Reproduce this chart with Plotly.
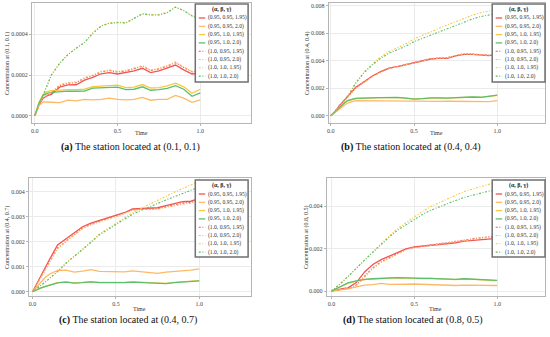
import plotly.graph_objects as go

# ---------------- data ----------------
T = [0.0, 0.025, 0.05, 0.075, 0.1, 0.15, 0.2, 0.25, 0.3, 0.35, 0.4, 0.45, 0.5,
     0.55, 0.6, 0.65, 0.7, 0.75, 0.8, 0.85, 0.9, 0.95, 1.0]

SERIES_NAMES = ["(0.95, 0.95, 1.95)", "(0.95, 0.95, 2.0)", "(0.95, 1.0, 1.95)",
                "(0.95, 1.0, 2.0)", "(1.0, 0.95, 1.95)", "(1.0, 0.95, 2.0)",
                "(1.0, 1.0, 1.95)", "(1.0, 1.0, 2.0)"]

# Panel (a): station (0.1, 0.1)
A_S1 = [0, 0.55e-4, 0.86e-4, 0.98e-4, 1.05e-4, 1.40e-4, 1.51e-4, 1.52e-4, 1.75e-4, 1.88e-4, 2.06e-4, 2.12e-4,
        2.05e-4, 2.12e-4, 2.20e-4, 2.33e-4, 2.12e-4, 2.20e-4, 2.33e-4, 2.49e-4, 2.25e-4, 2.05e-4, 2.10e-4]
A_S2 = [0, 0.50e-4, 0.68e-4, 0.66e-4, 0.66e-4, 0.64e-4, 0.76e-4, 0.73e-4, 0.80e-4, 0.78e-4, 0.80e-4, 0.86e-4,
        0.80e-4, 0.78e-4, 0.80e-4, 0.90e-4, 0.76e-4, 0.80e-4, 0.80e-4, 1.00e-4, 0.86e-4, 0.66e-4, 0.78e-4]
A_S3 = [0, 0.65e-4, 1.05e-4, 1.18e-4, 1.23e-4, 1.27e-4, 1.28e-4, 1.28e-4, 1.30e-4, 1.43e-4, 1.45e-4, 1.46e-4,
        1.50e-4, 1.38e-4, 1.40e-4, 1.53e-4, 1.36e-4, 1.38e-4, 1.46e-4, 1.60e-4, 1.42e-4, 1.10e-4, 1.30e-4]
A_S4 = [0, 0.62e-4, 1.00e-4, 1.10e-4, 1.15e-4, 1.19e-4, 1.21e-4, 1.20e-4, 1.21e-4, 1.35e-4, 1.37e-4, 1.38e-4,
        1.40e-4, 1.28e-4, 1.30e-4, 1.42e-4, 1.25e-4, 1.28e-4, 1.34e-4, 1.48e-4, 1.30e-4, 0.95e-4, 1.12e-4]
A_S5 = [0, 0.52e-4, 0.88e-4, 1.02e-4, 1.12e-4, 1.48e-4, 1.60e-4, 1.62e-4, 1.84e-4, 1.97e-4, 2.15e-4, 2.22e-4,
        2.15e-4, 2.20e-4, 2.30e-4, 2.43e-4, 2.22e-4, 2.30e-4, 2.44e-4, 2.60e-4, 2.37e-4, 2.15e-4, 2.20e-4]
A_S6 = [0, 0.52e-4, 0.90e-4, 1.05e-4, 1.16e-4, 1.52e-4, 1.63e-4, 1.66e-4, 1.87e-4, 2.00e-4, 2.18e-4, 2.25e-4,
        2.18e-4, 2.23e-4, 2.33e-4, 2.46e-4, 2.25e-4, 2.33e-4, 2.47e-4, 2.64e-4, 2.40e-4, 2.18e-4, 2.23e-4]
A_S7 = [0, 0.62e-4, 1.02e-4, 1.57e-4, 2.02e-4, 2.59e-4, 3.02e-4, 3.33e-4, 3.61e-4, 4.07e-4, 4.42e-4, 4.56e-4,
        4.59e-4, 4.58e-4, 4.82e-4, 5.02e-4, 4.97e-4, 4.97e-4, 5.08e-4, 5.35e-4, 5.18e-4, 4.92e-4, 4.77e-4]
A_S8 = [0, 0.60e-4, 1.00e-4, 1.55e-4, 2.00e-4, 2.57e-4, 3.00e-4, 3.31e-4, 3.59e-4, 4.05e-4, 4.40e-4, 4.54e-4,
        4.57e-4, 4.56e-4, 4.80e-4, 5.00e-4, 4.95e-4, 4.95e-4, 5.06e-4, 5.33e-4, 5.16e-4, 4.90e-4, 4.75e-4]

# Panel (b): station (0.4, 0.4)
B_S1 = [0, 0.30e-3, 0.70e-3, 1.05e-3, 1.38e-3, 2.06e-3, 2.47e-3, 2.89e-3, 3.20e-3, 3.45e-3, 3.56e-3, 3.70e-3,
        3.85e-3, 4.00e-3, 4.12e-3, 4.17e-3, 4.17e-3, 4.34e-3, 4.46e-3, 4.46e-3, 4.41e-3, 4.36e-3, 4.46e-3]
B_S2 = [0, 0.22e-3, 0.48e-3, 0.72e-3, 0.92e-3, 1.09e-3, 1.08e-3, 1.07e-3, 1.06e-3, 1.08e-3, 1.06e-3, 1.04e-3,
        1.03e-3, 1.06e-3, 1.05e-3, 1.04e-3, 1.05e-3, 1.04e-3, 1.02e-3, 1.00e-3, 0.98e-3, 1.02e-3, 1.09e-3]
B_S3 = [0, 0.25e-3, 0.55e-3, 0.84e-3, 1.08e-3, 1.25e-3, 1.29e-3, 1.30e-3, 1.31e-3, 1.34e-3, 1.32e-3, 1.28e-3,
        1.22e-3, 1.24e-3, 1.29e-3, 1.30e-3, 1.28e-3, 1.31e-3, 1.35e-3, 1.35e-3, 1.33e-3, 1.39e-3, 1.48e-3]
B_S4 = [0, 0.25e-3, 0.55e-3, 0.85e-3, 1.10e-3, 1.26e-3, 1.30e-3, 1.30e-3, 1.32e-3, 1.35e-3, 1.33e-3, 1.28e-3,
        1.21e-3, 1.24e-3, 1.30e-3, 1.30e-3, 1.28e-3, 1.32e-3, 1.36e-3, 1.36e-3, 1.34e-3, 1.40e-3, 1.50e-3]
B_S5 = [0, 0.28e-3, 0.68e-3, 1.02e-3, 1.35e-3, 2.02e-3, 2.44e-3, 2.86e-3, 3.18e-3, 3.44e-3, 3.58e-3, 3.72e-3,
        3.86e-3, 4.02e-3, 4.14e-3, 4.20e-3, 4.22e-3, 4.38e-3, 4.50e-3, 4.48e-3, 4.44e-3, 4.40e-3, 4.42e-3]
B_S6 = [0, 0.27e-3, 0.66e-3, 1.00e-3, 1.33e-3, 2.00e-3, 2.42e-3, 2.84e-3, 3.16e-3, 3.42e-3, 3.56e-3, 3.70e-3,
        3.84e-3, 4.00e-3, 4.12e-3, 4.18e-3, 4.20e-3, 4.36e-3, 4.48e-3, 4.46e-3, 4.42e-3, 4.38e-3, 4.40e-3]
B_S7 = [0, 0.30e-3, 0.72e-3, 1.06e-3, 1.40e-3, 2.40e-3, 3.18e-3, 3.76e-3, 4.27e-3, 4.66e-3, 4.92e-3, 5.22e-3,
        5.58e-3, 5.85e-3, 6.10e-3, 6.35e-3, 6.60e-3, 6.85e-3, 7.10e-3, 7.30e-3, 7.48e-3, 7.62e-3, 7.73e-3]
B_S8 = [0, 0.30e-3, 0.72e-3, 1.05e-3, 1.38e-3, 2.36e-3, 3.13e-3, 3.69e-3, 4.17e-3, 4.54e-3, 4.78e-3, 5.05e-3,
        5.38e-3, 5.62e-3, 5.87e-3, 6.10e-3, 6.35e-3, 6.58e-3, 6.83e-3, 7.02e-3, 7.20e-3, 7.33e-3, 7.44e-3]

# Panel (c): station (0.4, 0.7)
C_S1 = [0, 0.33e-3, 0.67e-3, 0.97e-3, 1.27e-3, 1.87e-3, 2.11e-3, 2.34e-3, 2.60e-3, 2.74e-3, 2.84e-3, 2.93e-3,
        3.04e-3, 3.16e-3, 3.31e-3, 3.33e-3, 3.33e-3, 3.36e-3, 3.44e-3, 3.53e-3, 3.60e-3, 3.62e-3, 3.73e-3]
C_S2 = [0, 0.20e-3, 0.40e-3, 0.57e-3, 0.70e-3, 0.85e-3, 0.86e-3, 0.78e-3, 0.82e-3, 0.88e-3, 0.81e-3, 0.80e-3,
        0.77e-3, 0.79e-3, 0.83e-3, 0.80e-3, 0.78e-3, 0.73e-3, 0.78e-3, 0.80e-3, 0.83e-3, 0.86e-3, 0.91e-3]
C_S3 = [0, 0.08e-3, 0.15e-3, 0.21e-3, 0.26e-3, 0.36e-3, 0.39e-3, 0.35e-3, 0.37e-3, 0.40e-3, 0.37e-3, 0.36e-3,
        0.36e-3, 0.37e-3, 0.39e-3, 0.37e-3, 0.34e-3, 0.32e-3, 0.33e-3, 0.37e-3, 0.40e-3, 0.42e-3, 0.44e-3]
C_S4 = [0, 0.08e-3, 0.15e-3, 0.20e-3, 0.25e-3, 0.35e-3, 0.38e-3, 0.34e-3, 0.36e-3, 0.39e-3, 0.36e-3, 0.35e-3,
        0.35e-3, 0.36e-3, 0.38e-3, 0.36e-3, 0.33e-3, 0.31e-3, 0.32e-3, 0.36e-3, 0.39e-3, 0.41e-3, 0.43e-3]
C_S5 = [0, 0.28e-3, 0.58e-3, 0.88e-3, 1.17e-3, 1.75e-3, 2.03e-3, 2.28e-3, 2.55e-3, 2.70e-3, 2.82e-3, 2.92e-3,
        3.02e-3, 3.14e-3, 3.28e-3, 3.31e-3, 3.30e-3, 3.32e-3, 3.40e-3, 3.48e-3, 3.54e-3, 3.58e-3, 3.66e-3]
C_S6 = [0, 0.27e-3, 0.56e-3, 0.86e-3, 1.15e-3, 1.72e-3, 2.00e-3, 2.25e-3, 2.52e-3, 2.68e-3, 2.80e-3, 2.90e-3,
        3.00e-3, 3.12e-3, 3.26e-3, 3.30e-3, 3.29e-3, 3.30e-3, 3.37e-3, 3.44e-3, 3.50e-3, 3.54e-3, 3.62e-3]
C_S7 = [0, 0.12e-3, 0.26e-3, 0.39e-3, 0.53e-3, 0.82e-3, 1.15e-3, 1.42e-3, 1.70e-3, 2.00e-3, 2.30e-3, 2.52e-3,
        2.74e-3, 2.95e-3, 3.16e-3, 3.33e-3, 3.50e-3, 3.65e-3, 3.82e-3, 3.98e-3, 4.13e-3, 4.28e-3, 4.42e-3]
C_S8 = [0, 0.12e-3, 0.25e-3, 0.38e-3, 0.52e-3, 0.80e-3, 1.13e-3, 1.40e-3, 1.67e-3, 1.97e-3, 2.27e-3, 2.48e-3,
        2.70e-3, 2.90e-3, 3.10e-3, 3.25e-3, 3.40e-3, 3.53e-3, 3.67e-3, 3.80e-3, 3.94e-3, 4.06e-3, 4.18e-3]

# Panel (d): station (0.8, 0.5)
D_S1 = [0, 0.05e-3, 0.10e-3, 0.12e-3, 0.15e-3, 0.40e-3, 0.90e-3, 1.25e-3, 1.48e-3, 1.65e-3, 1.80e-3, 1.99e-3,
        2.08e-3, 2.12e-3, 2.16e-3, 2.20e-3, 2.24e-3, 2.28e-3, 2.36e-3, 2.40e-3, 2.44e-3, 2.47e-3, 2.49e-3]
D_S2 = [0, 0.03e-3, 0.05e-3, 0.07e-3, 0.10e-3, 0.20e-3, 0.28e-3, 0.30e-3, 0.36e-3, 0.31e-3, 0.30e-3, 0.32e-3,
        0.33e-3, 0.31e-3, 0.30e-3, 0.28e-3, 0.25e-3, 0.26e-3, 0.28e-3, 0.28e-3, 0.28e-3, 0.27e-3, 0.26e-3]
D_S3 = [0, 0.10e-3, 0.20e-3, 0.29e-3, 0.37e-3, 0.47e-3, 0.54e-3, 0.57e-3, 0.59e-3, 0.60e-3, 0.62e-3, 0.61e-3,
        0.59e-3, 0.59e-3, 0.59e-3, 0.57e-3, 0.55e-3, 0.54e-3, 0.57e-3, 0.55e-3, 0.54e-3, 0.52e-3, 0.49e-3]
D_S4 = [0, 0.10e-3, 0.20e-3, 0.30e-3, 0.38e-3, 0.48e-3, 0.55e-3, 0.58e-3, 0.60e-3, 0.61e-3, 0.63e-3, 0.62e-3,
        0.60e-3, 0.60e-3, 0.60e-3, 0.58e-3, 0.56e-3, 0.55e-3, 0.58e-3, 0.56e-3, 0.55e-3, 0.53e-3, 0.50e-3]
D_S5 = [0, 0.04e-3, 0.08e-3, 0.10e-3, 0.12e-3, 0.28e-3, 0.70e-3, 1.10e-3, 1.38e-3, 1.58e-3, 1.78e-3, 1.97e-3,
        2.06e-3, 2.12e-3, 2.18e-3, 2.24e-3, 2.28e-3, 2.34e-3, 2.40e-3, 2.46e-3, 2.52e-3, 2.56e-3, 2.60e-3]
D_S6 = [0, 0.04e-3, 0.07e-3, 0.09e-3, 0.11e-3, 0.25e-3, 0.66e-3, 1.06e-3, 1.35e-3, 1.56e-3, 1.76e-3, 1.95e-3,
        2.05e-3, 2.10e-3, 2.16e-3, 2.22e-3, 2.26e-3, 2.32e-3, 2.38e-3, 2.43e-3, 2.49e-3, 2.53e-3, 2.56e-3]
D_S7 = [0, 0.15e-3, 0.32e-3, 0.50e-3, 0.68e-3, 1.07e-3, 1.47e-3, 1.86e-3, 2.25e-3, 2.61e-3, 2.96e-3, 3.24e-3,
        3.51e-3, 3.76e-3, 3.99e-3, 4.18e-3, 4.35e-3, 4.53e-3, 4.70e-3, 4.82e-3, 4.93e-3, 5.04e-3, 5.14e-3]
D_S8 = [0, 0.15e-3, 0.32e-3, 0.50e-3, 0.68e-3, 1.07e-3, 1.46e-3, 1.84e-3, 2.22e-3, 2.56e-3, 2.88e-3, 3.14e-3,
        3.40e-3, 3.62e-3, 3.82e-3, 3.98e-3, 4.12e-3, 4.28e-3, 4.42e-3, 4.53e-3, 4.62e-3, 4.72e-3, 4.78e-3]

X_TICKS = [0.0, 0.5, 1.0]
X_TICKTEXT = ["0.0", "0.5", "1.0"]
A_YTICKS = [0.0, 0.0002, 0.0004]
A_YTEXT = ["0.0000", "0.0002", "0.0004"]
B_YTICKS = [0.0, 0.002, 0.004, 0.006, 0.008]
B_YTEXT = ["0.000", "0.002", "0.004", "0.006", "0.008"]
C_YTICKS = [0.0, 0.001, 0.002, 0.003, 0.004]
C_YTEXT = ["0.000", "0.001", "0.002", "0.003", "0.004"]
D_YTICKS = [0.0, 0.002, 0.004]
D_YTEXT = ["0.000", "0.002", "0.004"]

# ---------------- styling ----------------
W, H = 550, 337
FONT = "Liberation Serif, Times New Roman, DejaVu Serif, serif"
COLORS = ["#F05454", "#FFB966", "#F7C93E", "#5CBF6E", "#F05454", "#FFB966", "#F7C93E", "#5CBF6E"]
DASH_ALT = "2px,1.6px,1px,1.6px"
DASHES = ["solid", "solid", "solid", "solid", DASH_ALT, DASH_ALT, DASH_ALT, DASH_ALT]
WIDTHS = [1.3, 1.3, 1.3, 1.3, 1.1, 1.1, 1.1, 1.1]
FRAME = "#B5B5B5"
GRID = "#EBEBEB"


def px(x):
    return x / W


def py(y):
    return 1 - y / H


panels = [
    dict(n="", series=[A_S1, A_S2, A_S3, A_S4, A_S5, A_S6, A_S7, A_S8],
         box=(30, 3, 250, 123), xr=[-0.018, 1.307], yr=[-0.36e-4, 5.54e-4],
         yt=A_YTICKS, ytt=A_YTEXT, ytitle="Concentration at (0.1, 0.1)", ytx=5,
         cap="<b>(a)</b> The station located at (0.1, 0.1)", cap_xy=(129, 147),
         time_y=133, leg=(194, 4, 247, 82)),
    dict(n="2", series=[B_S1, B_S2, B_S3, B_S4, B_S5, B_S6, B_S7, B_S8],
         box=(328, 3, 545, 123), xr=[-0.012, 1.287], yr=[-0.53e-3, 8.19e-3],
         yt=B_YTICKS, ytt=B_YTEXT, ytitle="Concentration at (0.4, 0.4)", ytx=306,
         cap="<b>(b)</b> The station located at (0.4, 0.4)", cap_xy=(410, 147),
         time_y=133, leg=(492, 4, 545, 82)),
    dict(n="3", series=[C_S1, C_S2, C_S3, C_S4, C_S5, C_S6, C_S7, C_S8],
         box=(27, 178, 250, 296), xr=[-0.022, 1.311], yr=[-0.172e-3, 4.55e-3],
         yt=C_YTICKS, ytt=C_YTEXT, ytitle="Concentration at (0.4, 0.7)", ytx=5,
         cap="<b>(c)</b> The station located at (0.4, 0.7)", cap_xy=(126, 320),
         time_y=309, leg=(194, 180, 247, 257)),
    dict(n="4", series=[D_S1, D_S2, D_S3, D_S4, D_S5, D_S6, D_S7, D_S8],
         box=(326, 178, 545, 296), xr=[-0.028, 1.289], yr=[-0.236e-3, 5.34e-3],
         yt=D_YTICKS, ytt=D_YTEXT, ytitle="Concentration at (0.8, 0.5)", ytx=305,
         cap="<b>(d)</b> The station located at (0.8, 0.5)", cap_xy=(412, 320),
         time_y=309, leg=(492, 180, 545, 257)),
]

fig = go.Figure()
shapes = []
annotations = []
layout_axes = {}

for p in panels:
    n = p["n"]
    l, t, r, b = p["box"]
    for i, vals in enumerate(p["series"]):
        fig.add_trace(go.Scatter(
            x=T, y=vals, mode="lines", name=SERIES_NAMES[i], showlegend=False,
            line=dict(color=COLORS[i], width=WIDTHS[i], dash=DASHES[i]),
            xaxis="x" + n, yaxis="y" + n, hoverinfo="skip"))
    common = dict(showline=True, mirror=True, linecolor=FRAME, linewidth=1,
                  showgrid=True, gridcolor=GRID, gridwidth=0.6, zeroline=False,
                  ticks="outside", ticklen=2, tickwidth=0.6, tickcolor=FRAME,
                  tickfont=dict(family=FONT, size=6, color="#444"))
    layout_axes["xaxis" + n] = dict(common, domain=[px(l), px(r)], range=p["xr"],
                                    anchor="y" + n, tickvals=X_TICKS, ticktext=X_TICKTEXT)
    layout_axes["yaxis" + n] = dict(common, domain=[py(b), py(t)], range=p["yr"],
                                    anchor="x" + n, tickvals=p["yt"], ticktext=p["ytt"])
    annotations.append(dict(xref="paper", yref="paper", x=px(p["ytx"]), y=py((t + b) / 2),
                            text=p["ytitle"], textangle=-90, showarrow=False,
                            font=dict(family=FONT, size=6, color="#333"),
                            xanchor="center", yanchor="middle"))
    annotations.append(dict(xref="paper", yref="paper", x=px((l + r) / 2), y=py(p["time_y"]),
                            text="Time", showarrow=False,
                            font=dict(family=FONT, size=6, color="#333"),
                            xanchor="center", yanchor="middle"))
    annotations.append(dict(xref="paper", yref="paper", x=px(p["cap_xy"][0]), y=py(p["cap_xy"][1]),
                            text=p["cap"], showarrow=False,
                            font=dict(family=FONT, size=10, color="#111"),
                            xanchor="center", yanchor="middle"))
    ll, lt, lr, lb = p["leg"]
    shapes.append(dict(type="rect", xref="paper", yref="paper", x0=px(ll), x1=px(lr),
                       y0=py(lb), y1=py(lt), fillcolor="white",
                       line=dict(color="#707070", width=1.5), layer="above"))
    annotations.append(dict(xref="paper", yref="paper", x=px((ll + lr) / 2), y=py(lt + 5.6),
                            text="<b>(α, β, γ)</b>", showarrow=False,
                            font=dict(family=FONT, size=6, color="#222"),
                            xanchor="center", yanchor="middle"))
    for i, name in enumerate(SERIES_NAMES):
        yy = lt + 14 + 8.3 * i
        shapes.append(dict(type="line", xref="paper", yref="paper", x0=px(ll + 3.5), x1=px(ll + 10),
                           y0=py(yy), y1=py(yy), layer="above",
                           line=dict(color=COLORS[i], width=WIDTHS[i], dash=DASHES[i])))
        annotations.append(dict(xref="paper", yref="paper", x=px(ll + 10.5), y=py(yy),
                                text=name, showarrow=False,
                                font=dict(family=FONT, size=5.6, color="#333"),
                                xanchor="left", yanchor="middle"))

fig.update_layout(
    width=W, height=H, margin=dict(l=0, r=0, t=0, b=0),
    paper_bgcolor="white", plot_bgcolor="white", showlegend=False,
    shapes=shapes, annotations=annotations, **layout_axes)

fig.write_html("out.html", config={"displayModeBar": False},
               post_script="document.body.style.margin='0';document.body.style.overflow='hidden';")
